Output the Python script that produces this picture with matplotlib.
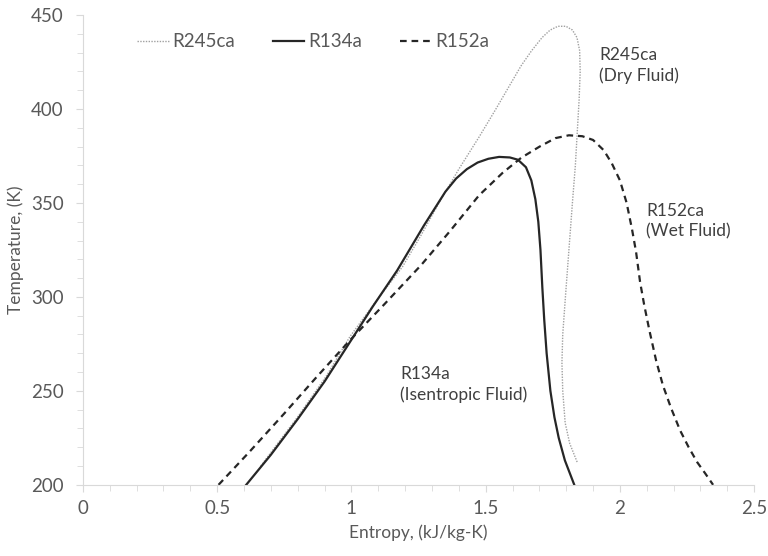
import matplotlib.pyplot as plt
from matplotlib.ticker import MultipleLocator

plt.rcParams['font.family'] = ['Lato', 'DejaVu Sans']

# R245ca (dry fluid) saturation dome
s_245 = [0.662, 0.799, 0.907, 0.995, 1.093, 1.19, 1.26, 1.33, 1.40, 1.475, 1.534, 1.583,
         1.632, 1.671, 1.710, 1.740, 1.769, 1.799, 1.823, 1.840, 1.850, 1.852, 1.848, 1.842,
         1.834, 1.823, 1.810, 1.797, 1.787, 1.784, 1.787, 1.796, 1.813, 1.841]
t_245 = [210, 236, 258, 279, 298, 316, 333, 351, 368, 385, 399, 411,
         423, 431, 438, 442, 444, 444, 442, 438, 431, 420, 405, 390,
         370, 350, 325, 300, 280, 265, 250, 233, 222, 212]

# R134a (isentropic fluid)
s_134 = [0.608, 0.70, 0.80, 0.90, 0.99, 1.08, 1.17, 1.22, 1.27, 1.31, 1.35, 1.39, 1.43,
         1.47, 1.51, 1.55, 1.59, 1.62, 1.65, 1.67, 1.685, 1.696, 1.704, 1.711, 1.718,
         1.727, 1.741, 1.756, 1.772, 1.795, 1.83]
t_134 = [200, 216, 235, 255, 275, 295, 314, 326, 338, 347, 356, 363, 368,
         371.5, 373.5, 374.5, 374.2, 373, 369, 362, 352, 340, 325, 305, 288,
         270, 250, 236, 225, 213, 200]

# R152a (wet fluid)
s_152 = [0.505, 0.623, 0.750, 0.868, 0.995, 1.122, 1.260, 1.367, 1.475, 1.563, 1.632, 1.701,
         1.76, 1.81, 1.86, 1.90, 1.94, 1.97, 2.00, 2.025, 2.045, 2.06, 2.075, 2.09, 2.11,
         2.135, 2.16, 2.19, 2.224, 2.256, 2.288, 2.318, 2.347]
t_152 = [200, 218, 238, 257, 277, 296, 317, 335, 354, 366, 374, 380,
         384.5, 386, 385.5, 383.5, 378, 371, 362, 350, 336, 324, 308, 296, 282,
         266, 253, 241, 229, 220, 212, 206, 200]

fig = plt.figure(figsize=(7.68, 5.56), dpi=100)
ax = fig.add_axes([0.108, 0.128, 0.874, 0.845])

ax.plot(s_245, t_245, color='#a0a0a0', linewidth=1.0, linestyle=(0, (1, 1)), label='R245ca')
ax.plot(s_134, t_134, color='#262626', linewidth=1.6, linestyle='-', label='R134a')
ax.plot(s_152, t_152, color='#262626', linewidth=1.6, linestyle=(0, (3, 2.2)), label='R152a')

ax.set_xlim(0, 2.5)
ax.set_ylim(200, 450)
ax.xaxis.set_minor_locator(MultipleLocator(0.1))
ax.yaxis.set_major_locator(MultipleLocator(50))
ax.yaxis.set_minor_locator(MultipleLocator(10))
ax.set_xticks([0, 0.5, 1, 1.5, 2, 2.5])
ax.set_xticklabels(['0', '0.5', '1', '1.5', '2', '2.5'])

for side in ['top', 'right']:
    ax.spines[side].set_visible(False)
for side in ['left', 'bottom']:
    ax.spines[side].set_color('#d9d9d9')
ax.tick_params(which='both', direction='out', color='#d9d9d9', labelcolor='#595959', labelsize=13.5)
ax.tick_params(which='major', length=5)
ax.tick_params(which='minor', length=4)
ax.tick_params(axis='x', pad=6)
ax.tick_params(axis='y', pad=9)

ax.set_xlabel('Entropy, (kJ/kg-K)', color='#595959', fontsize=12.5, labelpad=5)
ax.set_ylabel('Temperature, (K)', color='#595959', fontsize=12.5, labelpad=5)

ax.legend(loc='center left', bbox_to_anchor=(0.055, 0.943), ncol=3, frameon=False,
          fontsize=13.5, labelcolor='#595959', handlelength=1.7, handletextpad=0.2,
          columnspacing=2.0)

ax.text(1.922, 433, 'R245ca\n(Dry Fluid)', color='#404040', fontsize=12.5, va='top', ha='left', linespacing=1.3)
ax.text(2.098, 350, 'R152ca\n(Wet Fluid)', color='#404040', fontsize=12.5, va='top', ha='left', linespacing=1.3)
ax.text(1.181, 263, 'R134a\n(Isentropic Fluid)', color='#404040', fontsize=12.5, va='top', ha='left', linespacing=1.3)

plt.savefig('out.png', dpi=100)
plt.close()
